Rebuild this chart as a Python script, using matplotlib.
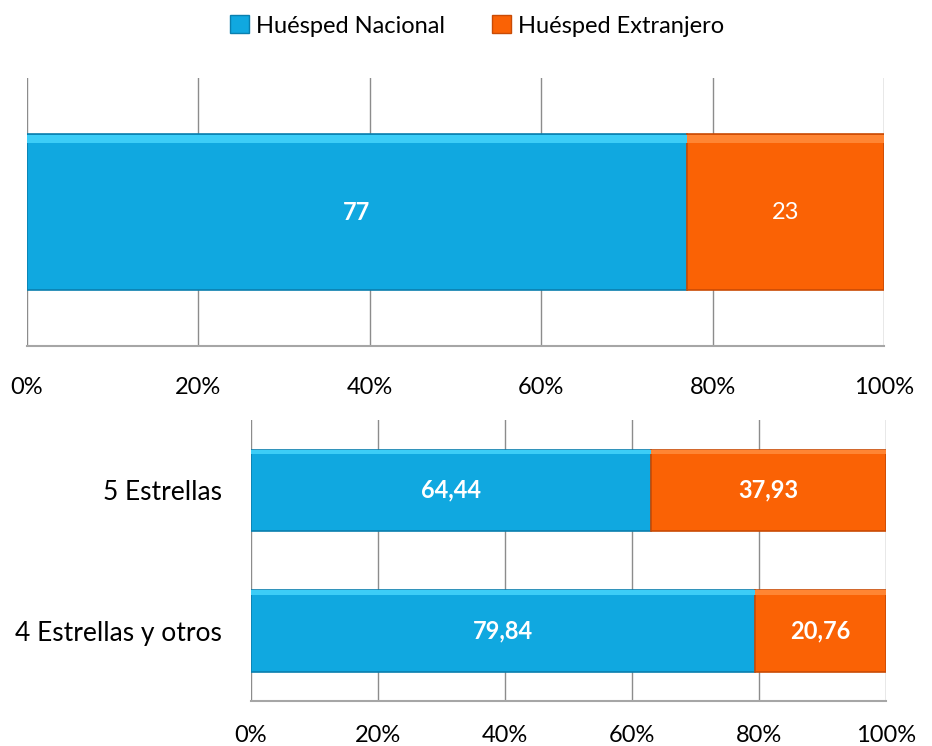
import matplotlib
matplotlib.use('Agg')
import matplotlib.pyplot as plt
from matplotlib.patches import Patch

plt.rcParams['font.family'] = ['Lato', 'DejaVu Sans']

series = ['Huésped Nacional', 'Huésped Extranjero']
colors = ['#10A8E0', '#FA6205']
edges = ['#0A7FAE', '#C94B05']

# total
total_nac = [77]
total_ext = [23]

# by category
categorias = ['5 Estrellas', '4 Estrellas y otros']
cat_nac = [64.44, 79.84]
cat_ext = [37.93, 20.76]

ticks = [0, 20, 40, 60, 80, 100]
tick_labels = ['0%', '20%', '40%', '60%', '80%', '100%']

fig = plt.figure(figsize=(9.32, 7.46), dpi=100)
ax1 = fig.add_axes([0.029, 0.5362, 0.9195, 0.3592])
ax2 = fig.add_axes([0.2693, 0.0603, 0.6813, 0.3767])


def stacked(ax, ypos, nac, ext, bold_ext, hbar):
    tot = [a + b for a, b in zip(nac, ext)]
    pn = [100 * a / t for a, t in zip(nac, tot)]
    pe = [100 * b / t for b, t in zip(ext, tot)]
    ax.barh(ypos, pn, height=hbar, color=colors[0], edgecolor=edges[0], linewidth=1.2, zorder=3)
    ax.barh(ypos, pe, left=pn, height=hbar, color=colors[1], edgecolor=edges[1], linewidth=1.2, zorder=3)
    # lighter highlight on top of bars
    hy = [y - hbar / 2 + 0.018 for y in ypos]
    ax.barh(hy, pn, height=0.03, color='#3CCDF7', linewidth=0, zorder=4)
    ax.barh(hy, pe, left=pn, height=0.03, color='#FF8533', linewidth=0, zorder=4)
    for y, a, b, va, vb in zip(ypos, pn, pe, nac, ext):
        ax.text(a / 2, y, ('%g' % va).replace('.', ','), ha='center', va='center',
                color='white', fontsize=17, fontweight='bold', zorder=5)
        ax.text(a + b / 2, y, ('%g' % vb).replace('.', ','), ha='center', va='center',
                color='white', fontsize=17, fontweight='bold' if bold_ext else 'normal', zorder=5)
    ax.set_xlim(0, 100)
    ax.set_xticks(ticks)
    ax.set_xticklabels(tick_labels, fontsize=17)
    ax.tick_params(axis='x', length=0, pad=22)
    ax.tick_params(axis='y', length=0)
    ax.grid(axis='x', color='#8C8C8C', linewidth=1.0, zorder=0)
    for s in ['top', 'right', 'left']:
        ax.spines[s].set_visible(False)
    ax.spines['bottom'].set_color('#A6A6A6')
    ax.spines['bottom'].set_linewidth(1.5)
    ax.set_facecolor('white')


stacked(ax1, [0], total_nac, total_ext, False, 0.58)
ax1.set_ylim(0.5, -0.5)
ax1.set_yticks([])

stacked(ax2, [0, 1], cat_nac, cat_ext, True, 0.58)
ax2.set_ylim(1.5, -0.5)
ax2.set_yticks([0, 1])
ax2.set_yticklabels(categorias, fontsize=19)
ax2.tick_params(axis='y', pad=21)
ax2.tick_params(axis='x', pad=17)

handles = [Patch(facecolor=colors[i], edgecolor=edges[i]) for i in range(2)]
fig.legend(handles, series, loc='upper center', bbox_to_anchor=(0.512, 1.008), ncol=2,
           frameon=False, fontsize=17, handlelength=0.8, handleheight=0.8,
           handletextpad=0.3, columnspacing=2.0)

fig.savefig('out.png', dpi=100)
